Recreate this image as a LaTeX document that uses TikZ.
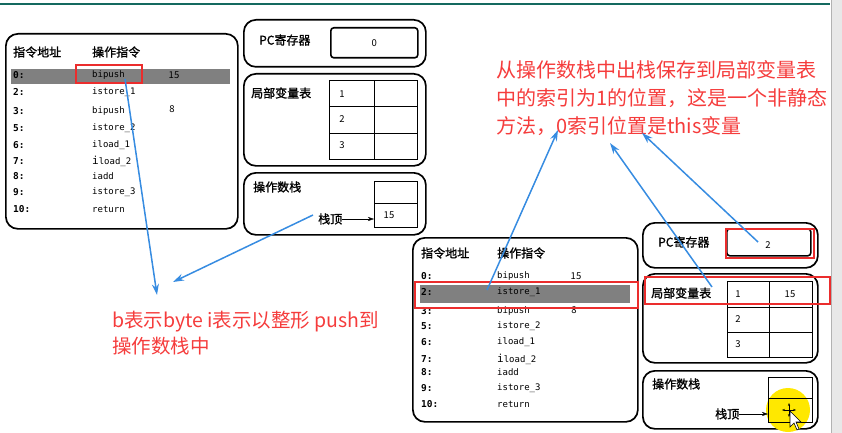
\documentclass[tikz,border=0pt]{standalone}
\usepackage{fontspec}
\newfontfamily\cjkfont{Noto Sans CJK SC}
\newfontfamily\cjkbold[FakeBold=1.2]{Noto Sans CJK SC}
\newfontfamily\codefont{DejaVu Sans Mono}
\usetikzlibrary{arrows.meta}
\definecolor{noteRed}{RGB}{245,60,60}
\definecolor{boxRed}{RGB}{235,45,45}
\definecolor{pointerBlue}{RGB}{55,140,225}
\definecolor{rowGray}{RGB}{128,128,128}
\definecolor{barTeal}{RGB}{20,105,95}
\definecolor{stripGray}{RGB}{232,232,232}
\definecolor{spotYellow}{RGB}{255,232,0}
\tikzset{
  panel/.style={draw, line width=1.7pt, rounded corners=12pt, anchor=north west, inner sep=0pt},
  valbox/.style={draw, line width=1.6pt, rounded corners=3pt, anchor=north west, inner sep=0pt},
  redbox/.style={draw=boxRed, line width=2.2pt, anchor=north west, inner sep=0pt},
  grayrow/.style={fill=rowGray, anchor=north west, inner sep=0pt},
  title/.style={font=\cjkbold\fontsize{12}{12}\selectfont, anchor=west, inner sep=0pt},
  addr/.style={font=\codefont\bfseries\fontsize{9.5}{10}\selectfont, anchor=west, inner sep=0pt},
  instr/.style={font=\codefont\fontsize{9}{10}\selectfont, anchor=west, inner sep=0pt},
  num/.style={font=\cjkfont\fontsize{9.5}{10}\selectfont, inner sep=0pt},
  note/.style={text=noteRed, font=\cjkfont\fontsize{20}{28}\selectfont, align=left, anchor=north west, inner sep=0pt},
  pointer/.style={draw=pointerBlue, line width=1.5pt, -{Stealth[length=11pt,width=7pt]}},
  grid/.style={line width=1pt}
}
\begin{document}
\begin{tikzpicture}[x=1pt, y=-1pt]
\useasboundingbox (0,0) rectangle (842,433);
\fill[stripGray] (831,0) rectangle (842,433);
\draw[gray!60] (831,0) -- (831,433);
\draw[barTeal, line width=2.5pt] (0,4) -- (830,4);

\node[panel, minimum width=232pt, minimum height=195pt] (codeA) at (5,33) {};
\node[title] (hdrAddrA) at (13,52) {指令地址};
\node[title] (hdrOpA) at (92,52) {操作指令};
\node[grayrow, minimum width=219pt, minimum height=15pt] (curA) at (11,69) {};
\node[addr] (a0A) at (13,75) {0:};
\node[instr] (i0A) at (92,75) {bipush};
\node[num] (o0A) at (174,75) {15};
\node[addr] (a2A) at (13,92) {2:};
\node[instr] (i2A) at (92,92) {istore\_1};
\node[addr] (a3A) at (13,111) {3:};
\node[instr] (i3A) at (92,111) {bipush};
\node[num] (o3A) at (172,109) {8};
\node[addr] (a5A) at (13,128) {5:};
\node[instr] (i5A) at (92,128) {istore\_2};
\node[addr] (a6A) at (13,145) {6:};
\node[instr] (i6A) at (92,145) {iload\_1};
\node[addr] (a7A) at (13,161) {7:};
\node[instr] (i7A) at (92,161) {{\fontsize{11}{10}\selectfont i}load\_2};
\node[addr] (a8A) at (13,176) {8:};
\node[instr] (i8A) at (92,176) {iadd};
\node[addr] (a9A) at (13,192) {9:};
\node[instr] (i9A) at (92,192) {istore\_3};
\node[addr] (a10A) at (13,209) {10:};
\node[instr] (i10A) at (92,209) {return};
\node[redbox, minimum width=66pt, minimum height=18pt] (bipushA) at (75,64) {};

\node[panel, minimum width=182pt, minimum height=47pt] (pcA) at (243,19) {};
\node[title] (pcLabelA) at (259,40) {PC寄存器};
\node[valbox, minimum width=87pt, minimum height=30pt] (pcValA) at (330,27) {};
\node[num] (pcNumA) at (pcValA.center) {0};

\node[panel, minimum width=182pt, minimum height=92pt] (locA) at (243,73) {};
\node[title] (locLabelA) at (251,93) {局部变量表};
\draw[grid] (329,81) rectangle (417,159) (374,81) -- (374,159)
  (329,107) -- (417,107) (329,133) -- (417,133);
\node[num] (slot1A) at (342,94) {1};
\node[num] (slot2A) at (342,119) {2};
\node[num] (slot3A) at (342,145) {3};

\node[panel, minimum width=182pt, minimum height=62pt] (stkA) at (243,172) {};
\node[title] (stkLabelA) at (253,187) {操作数栈};
\draw[grid] (374,181) rectangle (417,227) (374,203) -- (417,203);
\node[num] (stkNumA) at (389,215) {15};
\node[title] (topA) at (318,219) {栈顶};
\coordinate (topCellA) at (374,219);
\draw[-{Stealth[length=6pt,width=4pt]}] (topA.east) -- (topCellA);

\node[panel, minimum width=225pt, minimum height=184pt] (codeB) at (412,237) {};
\node[title] (hdrAddrB) at (421,253) {指令地址};
\node[title] (hdrOpB) at (497,253) {操作指令};
\node[grayrow, minimum width=210pt, minimum height=18pt] (curB) at (420,285) {};
\node[addr] (a0B) at (421,276) {0:};
\node[instr] (i0B) at (497,276) {bipush};
\node[num] (o0B) at (576,276) {15};
\node[addr] (a2B) at (421,292) {2:};
\node[instr] (i2B) at (497,292) {istore\_1};
\node[addr] (a3B) at (421,311) {3:};
\node[instr] (i3B) at (497,311) {bipush};
\node[num] (o3B) at (574,310) {8};
\node[addr] (a5B) at (421,326) {5:};
\node[instr] (i5B) at (497,326) {istore\_2};
\node[addr] (a6B) at (421,342) {6:};
\node[instr] (i6B) at (497,342) {iload\_1};
\node[addr] (a7B) at (421,359) {7:};
\node[instr] (i7B) at (497,359) {{\fontsize{11}{10}\selectfont i}load\_2};
\node[addr] (a8B) at (421,372) {8:};
\node[instr] (i8B) at (497,372) {iadd};
\node[addr] (a9B) at (421,388) {9:};
\node[instr] (i9B) at (497,388) {istore\_3};
\node[addr] (a10B) at (421,404) {10:};
\node[instr] (i10B) at (497,404) {return};
\node[redbox, minimum width=223pt, minimum height=26pt] (istoreB) at (414,281) {};

\node[panel, minimum width=175pt, minimum height=45pt] (pcB) at (642,222) {};
\node[title] (pcLabelB) at (658,242) {PC寄存器};
\node[valbox, minimum width=84pt, minimum height=27pt] (pcValB) at (726,228) {};
\node[redbox, minimum width=88pt, minimum height=29pt] (pcRedB) at (725,228) {};
\node[num] (pcNumB) at (768,245) {2};

\node[panel, minimum width=175pt, minimum height=89pt] (locB) at (642,273) {};
\node[title] (locLabelB) at (651,293) {局部变量表};
\draw[grid] (727,281) rectangle (812,357) (769,281) -- (769,357)
  (727,307) -- (812,307) (727,332) -- (812,332);
\node[num] (slot1B) at (738,294) {1};
\node[num] (val1B) at (790,294) {15};
\node[num] (slot2B) at (738,319) {2};
\node[num] (slot3B) at (738,344) {3};
\node[redbox, minimum width=185pt, minimum height=27pt] (locRedB) at (644,276) {};

\node[panel, minimum width=175pt, minimum height=58pt] (stkB) at (642,370) {};
\node[title] (stkLabelB) at (652,384) {操作数栈};
\fill[spotYellow] (788,410) circle (22);
\draw[grid] (768,377) rectangle (812,422) (768,398) -- (812,398);
\node[title] (topB) at (715,414) {栈顶};
\coordinate (topCellB) at (768,414);
\draw[-{Stealth[length=6pt,width=4pt]}] (topB.east) -- (topCellB);
\draw[line width=0.8pt, {Stealth[length=3pt]}-{Stealth[length=3pt]}] (782,410) -- (796,410);
\draw[line width=0.8pt, {Stealth[length=3pt]}-{Stealth[length=3pt]}] (789,403) -- (789,417);
\draw[fill=white, line width=0.6pt] (790,411) -- (790,427) -- (794,423) -- (797,430)
  -- (799,429) -- (796,422) -- (801,422) -- cycle;

\node[note] (noteStore) at (496,60) {从操作数栈中出栈保存到局部变量表\\中的索引为1的位置，这是一个非静态\\方法，0索引位置是this变量};
\node[note, font=\cjkfont\fontsize{19.5}{26}\selectfont] (noteByte) at (112,311) {b表示byte i表示以整形 push到\\操作数栈中};

\coordinate (fromBipush) at (125,79);
\coordinate (tipBipush) at (157,295);
\coordinate (fromTopA) at (313,215);
\coordinate (tipTopA) at (173,282);
\coordinate (fromIstore) at (487,290);
\coordinate (tipIstore) at (558,130);
\coordinate (fromLoc) at (712,287);
\coordinate (tipLoc) at (610,143);
\coordinate (fromPc) at (758,242);
\coordinate (tipPc) at (642,133);
\draw[pointer] (fromBipush) -- (tipBipush);
\draw[pointer] (fromTopA) -- (tipTopA);
\draw[pointer] (fromIstore) -- (tipIstore);
\draw[pointer] (fromLoc) -- (tipLoc);
\draw[pointer] (fromPc) -- (tipPc);
\end{tikzpicture}
\end{document}
